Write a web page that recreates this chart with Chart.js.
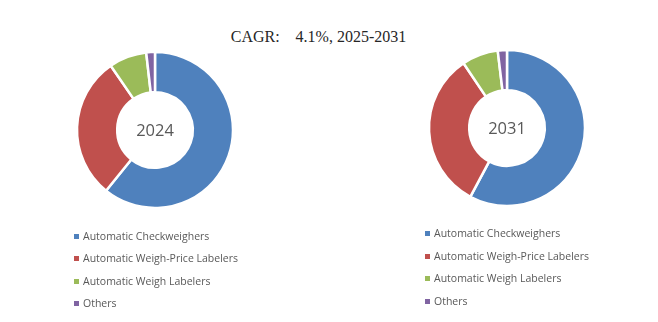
<!DOCTYPE html>
<html>
<head>
<meta charset="utf-8">
<script src="https://cdn.jsdelivr.net/npm/chart.js@4/dist/chart.umd.min.js"></script>
<style>
  html, body { margin: 0; padding: 0; background: #fff; }
  body { width: 658px; height: 322px; position: relative; overflow: hidden; }
  #title { position: absolute; left: 0; width: 637px; top: 28px; text-align: center;
           font-family: "Liberation Serif", "DejaVu Serif", serif; font-size: 16px; color: #262626; white-space: pre; }
  .wrap { position: absolute; width: 180px; height: 180px; }
  .center { position: absolute; left: 0; top: 0; width: 180px; height: 180px; line-height: 180px; text-align: center;
            font-family: "Open Sans", sans-serif; font-size: 16.5px; color: #595959; pointer-events: none; }
  .legend { position: absolute; font-family: "Open Sans", sans-serif; font-size: 10.5px; color: #595959; }
  .legend .row { position: absolute; left: 0; white-space: nowrap; height: 14px; line-height: 14px; }
  .legend .sw { position: absolute; left: 0; top: 5px; width: 5px; height: 5px; }
  .legend .tx { position: absolute; left: 9px; top: 0; }
</style>
</head>
<body>
<div id="title"></div>
<div class="wrap" id="w1" style="left:65px; top:40px;"><canvas id="c1" width="180" height="180"></canvas><div class="center" id="l1"></div></div>
<div class="wrap" id="w2" style="left:417px; top:38px;"><canvas id="c2" width="180" height="180"></canvas><div class="center" id="l2"></div></div>
<div class="legend" id="lg1" style="left:74px; top:229px;"></div>
<div class="legend" id="lg2" style="left:425px; top:226px;"></div>
<script>
const titleText = "CAGR:    4.1%, 2025-2031";
const categories = ["Automatic Checkweighers", "Automatic Weigh-Price Labelers", "Automatic Weigh Labelers", "Others"];
const years = ["2024", "2031"];
const values2024 = [60.8, 29.6, 7.8, 1.8];
const values2031 = [57.8, 32.8, 7.5, 1.9];
const colors = ["#4F81BD", "#C0504D", "#9BBB59", "#8064A2"];

document.getElementById('title').textContent = titleText;

function makeChart(id, values) {
  return new Chart(document.getElementById(id), {
    type: 'doughnut',
    data: {
      labels: categories,
      datasets: [{ data: values, backgroundColor: colors, borderColor: '#ffffff', borderWidth: 2.5 }]
    },
    options: {
      responsive: false,
      animation: false,
      radius: 78,
      cutout: 43,
      layout: { padding: 0 },
      plugins: { legend: { display: false }, tooltip: { enabled: false }, title: { display: false } }
    }
  });
}
makeChart('c1', values2024);
makeChart('c2', values2031);
document.getElementById('l1').textContent = years[0];
document.getElementById('l2').textContent = years[1];

function buildLegend(id, spacing) {
  const el = document.getElementById(id);
  categories.forEach((cat, i) => {
    const row = document.createElement('div');
    row.className = 'row';
    row.style.top = (i * spacing) + 'px';
    const sw = document.createElement('span');
    sw.className = 'sw';
    sw.style.background = colors[i];
    const tx = document.createElement('span');
    tx.className = 'tx';
    tx.textContent = cat;
    row.appendChild(sw); row.appendChild(tx);
    el.appendChild(row);
  });
}
buildLegend('lg1', 22.3);
buildLegend('lg2', 22.6);
</script>
</body>
</html>
